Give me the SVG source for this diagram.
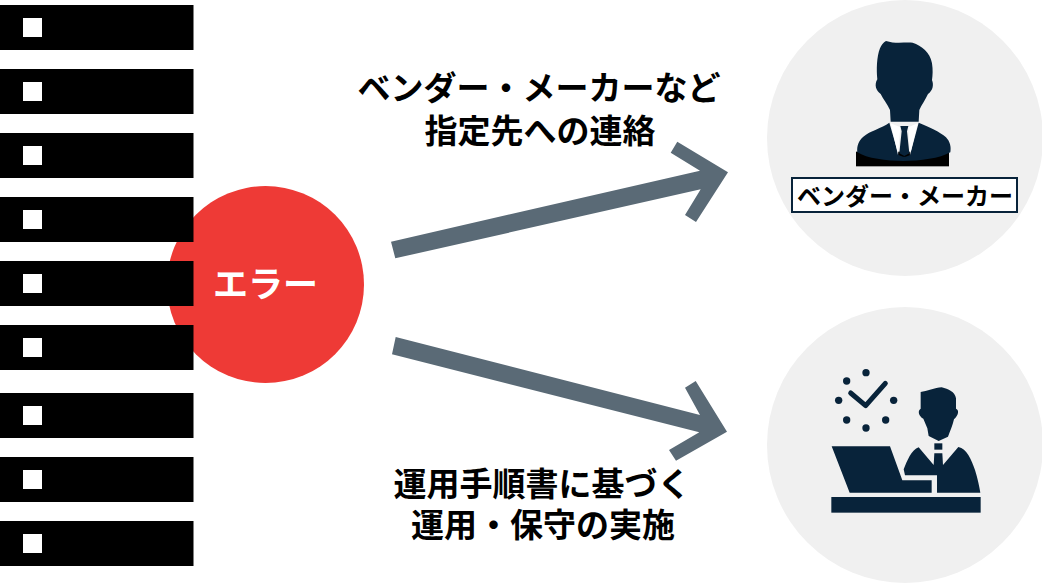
<svg xmlns="http://www.w3.org/2000/svg" width="1042" height="583" viewBox="0 0 1042 583">
<style>
text{font-family:"Noto Sans CJK JP","Noto Sans",sans-serif;text-anchor:middle}
.lbl{font-size:33px;font-weight:700;fill:#000}
.bar{fill:#000}
.sq{fill:#fff}
.bg{fill:#f0f0f0}
.ink{fill:#08233a}
.arrow{fill:#5a6a76}
</style>
<defs>
<g id="unit"><rect class="bar" x="0" y="0" width="193.5" height="45"/><rect class="sq" x="23" y="13" width="19" height="19"/></g>
</defs>
<g id="error"><circle cx="265.5" cy="284.5" r="98.5" fill="#ee3a36"/><text x="265.5" y="297" fill="#fff" style="font-size:35px;font-weight:700">エラー</text></g>
<g id="servers">
<use href="#unit" y="5"/><use href="#unit" y="69"/><use href="#unit" y="133"/><use href="#unit" y="197"/><use href="#unit" y="261"/><use href="#unit" y="325"/><use href="#unit" y="393"/><use href="#unit" y="457"/><use href="#unit" y="521"/>
</g>
<g id="connectors">
<polygon class="arrow" points="391,241.7 700,170.7 670.7,152.7 677.3,141.7 728,172.3 696,222 685,215 700.7,189.3 395.3,258.3"/>
<polygon class="arrow" points="395.7,337 700,415 685,387.7 695.7,381 727,431.7 676,460.7 669,450 699.3,432.3 392,354.3"/>
</g>
<g id="label-top"><text class="lbl" x="539" y="100">ベンダー・メーカーなど</text><text class="lbl" x="540" y="143">指定先への連絡</text></g>
<g id="label-bottom"><text class="lbl" x="542" y="496">運用手順書に基づく</text><text class="lbl" x="543" y="537">運用・保守の実施</text></g>
<g id="vendor">
<circle class="bg" cx="905" cy="138" r="138"/>
<g transform="translate(780 20) scale(.33333)">
<rect x="228" y="395" width="279" height="44" fill="#000"/>
<path class="ink" d="M318 63C345 72 375 66 398 68C425 78 450 95 456 130C459 150 458 165 456 180C462 195 458 212 444 222C436 240 424 255 418 270L416 305L332 305L330 270C322 252 310 238 302 222C288 212 282 195 292 178C289 150 290 110 300 85C304 75 310 67 318 63Z"/>
<path class="ink" d="M328 308L356 405C370 412 376 412 390 405L416 308C450 322 480 335 498 352C510 365 514 380 511 397C480 415 420 423 370 423C320 423 260 415 232 397C230 378 236 362 250 350C270 332 305 325 328 308Z"/>
<path fill="#fff" d="M332 310L361 322L354 405ZM413 310L385 322L390 405Z"/>
<path class="ink" d="M361 318L385 318L381 334L388 400L373 408L358 400L365 334Z"/>
</g>
<rect x="792" y="178" width="225" height="34" fill="#fff" stroke="#08233a" stroke-width="2"/>
<text x="905" y="205" style="font-size:24px;font-weight:700" fill="#000">ベンダー・メーカー</text>
</g>
<g id="operator">
<circle class="bg" cx="905" cy="445" r="138"/>
<g transform="translate(810 350) scale(.33333)">
<circle class="ink" cx="168" cy="68" r="11"/><circle class="ink" cx="110" cy="93" r="11"/><circle class="ink" cx="86" cy="151" r="11"/><circle class="ink" cx="110" cy="210" r="11"/><circle class="ink" cx="168" cy="234" r="11"/><circle class="ink" cx="227" cy="210" r="11"/><circle class="ink" cx="251" cy="151" r="11"/>
<path d="M122 129L167 167L226 100" fill="none" stroke="#08233a" stroke-width="15" stroke-linecap="round" stroke-linejoin="round"/>
<path class="ink" d="M332 126C350 125 375 112 395 112C415 118 435 125 438 145L438 176C448 180 446 195 432 208C428 225 420 245 414 260L386 273L356 258L352 235C348 225 344 215 340 206C326 198 322 182 332 176Z"/>
<rect class="ink" x="373" y="280" width="24" height="19"/>
<path class="ink" d="M373 310L397 310L399 345L445 291C470 295 485 330 495 360C503 385 508 410 511 428L381 428L381 376L285 376L281 358C290 335 305 298 326 292L371 345Z"/>
<path class="ink" d="M65 289L240 289L277 391L365 391L365 428L119 428Z"/>
<rect class="ink" x="64" y="441" width="448" height="47"/>
</g>
</g>
</svg>
